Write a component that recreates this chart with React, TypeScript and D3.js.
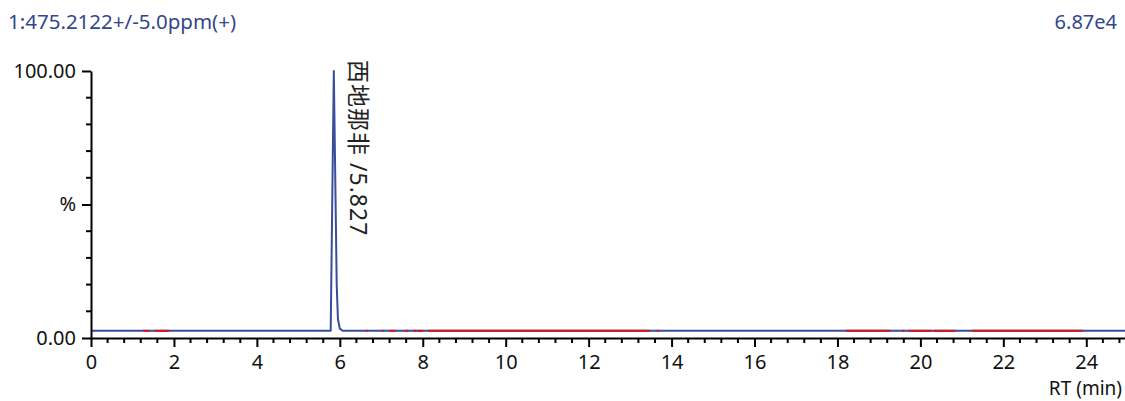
import { useEffect, useRef } from 'react'
import * as d3 from 'd3'

// chromatogram trace (minutes, % of max)
const rtTimes = [0, 5.78, 5.855, 5.925, 5.955, 6.0, 6.07, 25]
const rtIntensity = [2.7, 2.7, 100, 20, 7, 3.5, 2.7, 2.7]

// red stretches drawn over the baseline (minutes)
const redStart = [1.26, 1.54, 6.63, 7.02, 7.2, 7.57, 7.77, 7.88, 8.13, 13.64, 18.21, 19.56, 19.71, 20.32, 21.24]
const redEnd = [1.41, 1.88, 6.67, 7.06, 7.35, 7.65, 7.85, 8.01, 13.48, 13.69, 19.27, 19.61, 20.27, 20.85, 23.92]

const xTicks = [0, 2, 4, 6, 8, 10, 12, 14, 16, 18, 20, 22, 24]
const yTicks = [0, 50, 100]
const yTickLabels = ['0.00', '%', '100.00']

const peakRt = 5.855
const peakLabel = '西地那非 /5.827'
const title = '1:475.2122+/-5.0ppm(+)'
const maxIntensity = '6.87e4'
const xTitle = 'RT (min)'

const FONT = '"Noto Sans", "Noto Sans CJK SC", sans-serif'
const BLUE = '#3a4d9b'
const RED = '#d7141c'
const TEXT_BLUE = '#34468c'

export default function App() {
  const ref = useRef<SVGSVGElement | null>(null)

  useEffect(() => {
    if (!ref.current) return
    const width = 1125
    const height = 401
    const svg = d3.select(ref.current)
    svg.selectAll('*').remove()

    const x = d3.scaleLinear().domain([0, 25]).range([91, 91 + 25 * 41.47])
    const y = d3.scaleLinear().domain([0, 100]).range([338, 71])

    // titles
    svg
      .append('text')
      .attr('x', 8)
      .attr('y', 29)
      .style('font-family', FONT)
      .style('font-size', '20.5px')
      .style('fill', TEXT_BLUE)
      .text(title)
    svg
      .append('text')
      .attr('x', 1117)
      .attr('y', 29)
      .attr('text-anchor', 'end')
      .style('font-family', FONT)
      .style('font-size', '20px')
      .style('fill', TEXT_BLUE)
      .text(maxIntensity)

    // trace
    const pts = rtTimes.map((t, i) => [t, rtIntensity[i]] as [number, number])
    const line = d3
      .line<[number, number]>()
      .x((d) => x(d[0]))
      .y((d) => y(d[1]))
    svg
      .append('path')
      .attr('d', line(pts))
      .attr('fill', 'none')
      .attr('stroke', BLUE)
      .attr('stroke-width', 2)
      .attr('stroke-linejoin', 'round')

    const base = rtIntensity[0]
    svg
      .append('g')
      .selectAll('line')
      .data(redStart.map((s, i) => [s, redEnd[i]]))
      .join('line')
      .attr('x1', (d) => x(d[0]))
      .attr('x2', (d) => x(d[1]))
      .attr('y1', y(base))
      .attr('y2', y(base))
      .attr('stroke', RED)
      .attr('stroke-width', 2)

    // x axis
    const xAxis = svg
      .append('g')
      .attr('transform', `translate(0,${y(0)})`)
      .call(d3.axisBottom(x).tickValues(xTicks).tickSize(9).tickSizeOuter(0).tickPadding(8))
    xAxis.select('.domain').attr('stroke', '#000').attr('stroke-width', 2)
    xAxis.selectAll('.tick line').attr('stroke', '#000').attr('stroke-width', 2)
    xAxis
      .selectAll('.tick text')
      .style('font-family', FONT)
      .style('font-size', '20px')
      .style('fill', '#111')
    const xMinor = d3.range(0, 125).map((i) => i * 0.4).filter((t) => t <= 25 && Math.abs(t / 2 - Math.round(t / 2)) > 1e-6)
    svg
      .append('g')
      .selectAll('line')
      .data(xMinor)
      .join('line')
      .attr('x1', (d) => x(d))
      .attr('x2', (d) => x(d))
      .attr('y1', y(0))
      .attr('y2', y(0) + 5)
      .attr('stroke', '#000')
      .attr('stroke-width', 2)

    // y axis
    const yAxis = svg
      .append('g')
      .attr('transform', `translate(${x(0)},0)`)
      .call(
        d3
          .axisLeft(y)
          .tickValues(yTicks)
          .tickSize(9)
          .tickSizeOuter(0)
          .tickPadding(6)
          .tickFormat((_, i) => yTickLabels[i])
      )
    yAxis.select('.domain').attr('stroke', '#000').attr('stroke-width', 2)
    yAxis.selectAll('.tick line').attr('stroke', '#000').attr('stroke-width', 2)
    yAxis
      .selectAll('.tick text')
      .style('font-family', FONT)
      .style('font-size', '20px')
      .style('fill', '#111')
    svg
      .append('g')
      .selectAll('line')
      .data(d3.range(10, 100, 10).filter((v) => v !== 50))
      .join('line')
      .attr('x1', x(0) - 5)
      .attr('x2', x(0))
      .attr('y1', (d) => y(d))
      .attr('y2', (d) => y(d))
      .attr('stroke', '#000')
      .attr('stroke-width', 2)

    svg
      .append('text')
      .attr('x', 1122)
      .attr('y', 395)
      .attr('text-anchor', 'end')
      .style('font-family', FONT)
      .style('font-size', '19px')
      .style('fill', '#111')
      .text(xTitle)

    // peak annotation, rotated
    svg
      .append('text')
      .attr('transform', `translate(${x(peakRt) + 16},${y(100) - 11}) rotate(90)`)
      .style('font-family', FONT)
      .style('font-size', '23px')
      .style('letter-spacing', '1px')
      .style('fill', '#222')
      .text(peakLabel)

    svg.attr('width', width).attr('height', height)
  }, [])

  return (
    <svg
      ref={ref}
      width={1125}
      height={401}
      style={{ position: 'absolute', left: 0, top: 0, background: '#fff' }}
    />
  )
}
